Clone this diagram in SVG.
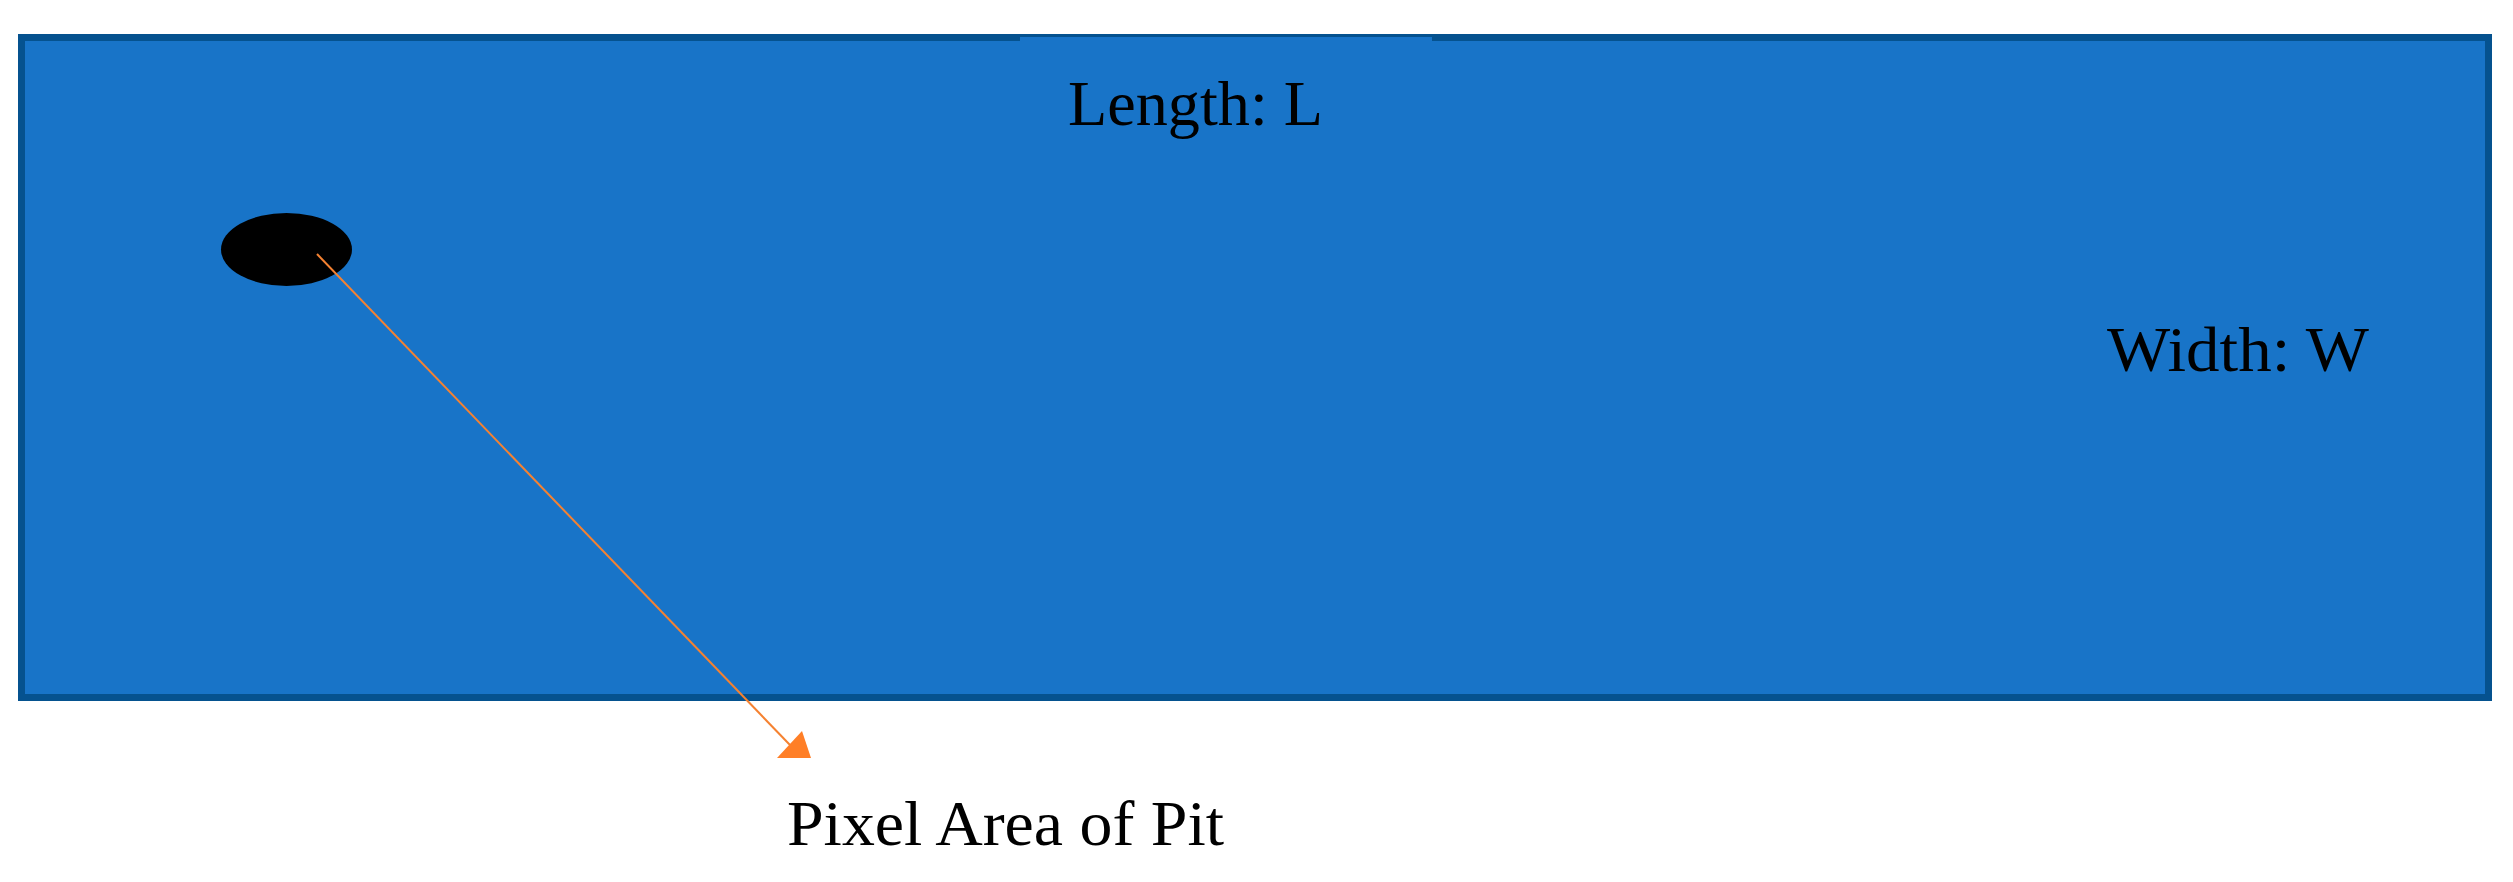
<svg xmlns="http://www.w3.org/2000/svg" width="2513" height="882" viewBox="0 0 2513 882">
<style>
.lbl{font-family:"Liberation Serif","Times New Roman",serif;fill:#000;}
.conn{stroke:#F58231;stroke-width:2;fill:none;}
</style>
<rect width="2513" height="882" fill="#fff"/>
<g id="plate">
<rect x="21.5" y="37.5" width="2467" height="660" fill="#1874C8" stroke="#05528F" stroke-width="7"/>
<rect x="1020" y="37" width="412" height="4" fill="#1874C8"/>
</g>
<g id="pit">
<ellipse cx="286.5" cy="249.5" rx="65.5" ry="36.5" fill="#000"/>
</g>
<g id="length-label">
<text class="lbl" x="1068" y="125" font-size="64" textLength="255" lengthAdjust="spacingAndGlyphs">Length: L</text>
</g>
<g id="width-label">
<text class="lbl" x="2107" y="371" font-size="64" textLength="262" lengthAdjust="spacingAndGlyphs">Width: W</text>
</g>
<g id="pit-label">
<text class="lbl" x="787" y="845" font-size="64" textLength="437" lengthAdjust="spacingAndGlyphs">Pixel Area of Pit</text>
</g>
<g id="connectors">
<line class="conn" x1="317" y1="254" x2="790" y2="745"/>
<path d="M802,731 L811,758 L777,758 Z" fill="#FF7F27"/>
</g>
</svg>
